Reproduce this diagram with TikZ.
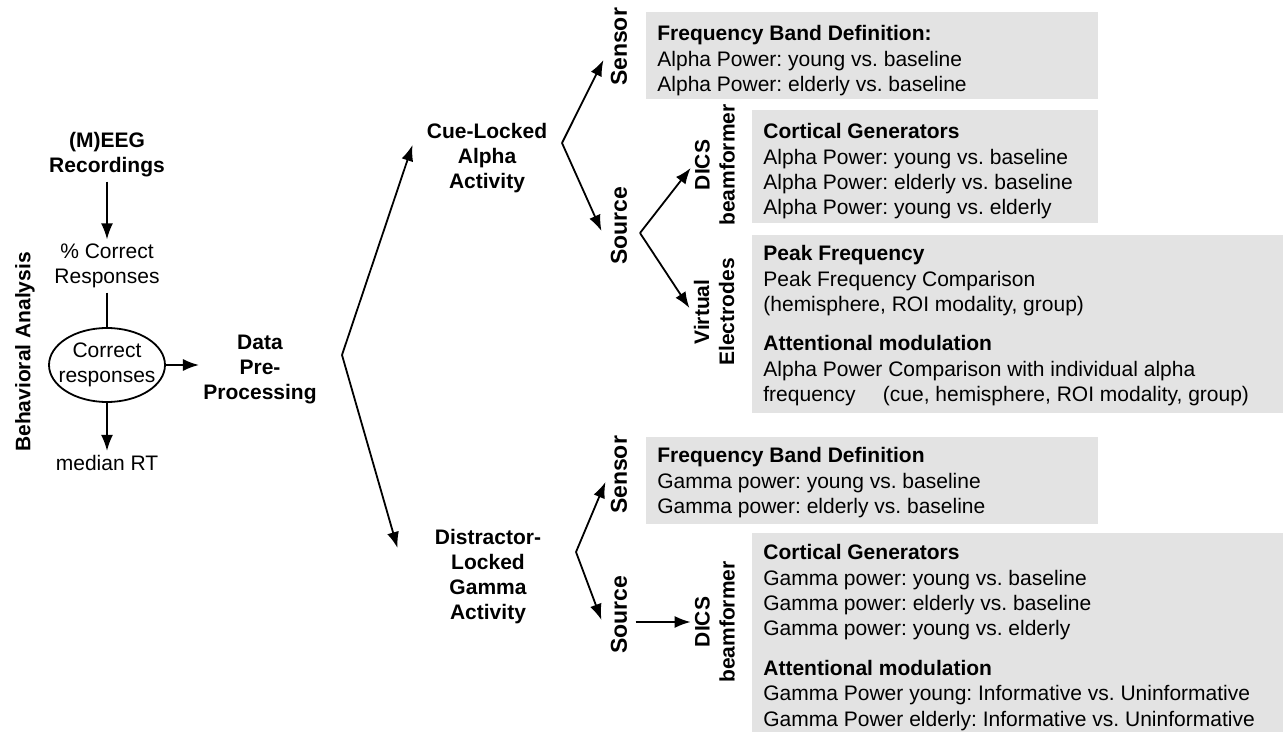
\documentclass[tikz,border=0pt]{standalone}
\usepackage{fontspec}
\setmainfont{Liberation Sans}
\usetikzlibrary{shapes.geometric, arrows.meta}
\frenchspacing

\definecolor{boxgray}{HTML}{E3E3E3}

\begin{document}
\begin{tikzpicture}[x = .5pt, y = -.5pt,
    every node/.style = {font = \fontsize{10.5}{12.7}\selectfont},
    head/.style = {font = \fontsize{10.5}{12.5}\selectfont\bfseries, align = center, inner sep = 2pt},
    side/.style = {font = \fontsize{11.5}{13}\selectfont\bfseries, rotate = 90, inner sep = 2pt},
    sidetwo/.style = {head, rotate = 90},
    plain/.style = {align = center, inner sep = 2pt},
    result/.style = {anchor = north west, align = left, inner sep = 0pt},
    arr/.style = {line width = .9pt, -{Latex[length = 8pt, width = 6pt]}},
    link/.style = {line width = .9pt}]
\useasboundingbox (0, 0) rectangle (1285, 732);

% grey result boxes
\fill[boxgray] (646, 12) rectangle (1098, 99);
\fill[boxgray] (752, 110) rectangle (1098, 223);
\fill[boxgray] (752, 235) rectangle (1283, 413);
\fill[boxgray] (646, 437) rectangle (1098, 524);
\fill[boxgray] (752, 533) rectangle (1283, 732);

% behavioural part
\node[head, rotate = 90] (beh) at (25, 352) {Behavioral Analysis};
\node[head] (meeg) at (107, 155) {(M)EEG\\Recordings};
\node[plain] (pct) at (107, 266) {\% Correct\\Responses};
\node[draw, ellipse, link, minimum width = 58pt, minimum height = 37pt, inner sep = 0pt,
      label = {[plain]center:Correct\\responses}] (ell) at (107, 365) {};
\node[plain] (rt) at (107, 463) {median RT};
\node[head] (pre) at (260, 370) {Data\\Pre-\\Processing};

% analysis branches
\node[head] (cue) at (487, 158) {Cue-Locked\\Alpha\\Activity};
\node[head] (dist) at (488, 577) {Distractor-\\Locked\\Gamma\\Activity};
\node[side] (sensa) at (619, 47) {Sensor};
\node[side] (srca) at (619, 226) {Source};
\node[sidetwo] (dicsa) at (715, 165) {DICS\\beamformer};
\node[sidetwo] (virt) at (714, 312) {Virtual\\Electrodes};
\node[side] (sensg) at (619, 475) {Sensor};
\node[side] (srcg) at (619, 615) {Source};
\node[sidetwo] (dicsg) at (715, 622) {DICS\\beamformer};

% results
\node[result] (fbda) at (657, 25) {\textbf{Frequency Band Definition:}\\
  Alpha Power: young vs. baseline\\Alpha Power: elderly vs. baseline};
\node[result] (cga) at (763, 123) {\textbf{Cortical Generators}\\
  Alpha Power: young vs. baseline\\Alpha Power: elderly vs. baseline\\
  Alpha Power: young vs. elderly};
\node[result] (pfa) at (763, 245) {\textbf{Peak Frequency}\\
  Peak Frequency Comparison\\(hemisphere, ROI modality, group)\\[7pt]
  \textbf{Attentional modulation}\\
  Alpha Power Comparison with individual alpha\\
  frequency\hspace{1.3em}(cue, hemisphere, ROI modality, group)};
\node[result] (fbdg) at (657, 447) {\textbf{Frequency Band Definition}\\
  Gamma power: young vs. baseline\\Gamma power: elderly vs. baseline};
\node[result] (cgg) at (763, 544) {\textbf{Cortical Generators}\\
  Gamma power: young vs. baseline\\Gamma power: elderly vs. baseline\\
  Gamma power: young vs. elderly\\[7pt]
  \textbf{Attentional modulation}\\
  Gamma Power young: Informative vs. Uninformative\\
  Gamma Power elderly: Informative vs. Uninformative};

% forks
\coordinate (fork) at (342, 355);
\coordinate (forka) at (562, 143);
\coordinate (forks) at (640, 233);
\coordinate (forkg) at (576, 552);

\draw[arr] (meeg) -- (pct);
\draw[link] (pct) -- (ell);
\draw[arr] (ell) -- (rt);
\draw[arr] (ell.east) -- (ell.east -| pre.west);
\draw[arr] (fork) -- ([shift = {(-10, -13)}] cue.west);
\draw[arr] (fork) -- ([shift = {(-33, -29)}] dist.west);
\draw[arr] (forka) -- ([shift = {(-3, 13)}] sensa.north);
\draw[arr] (forka) -- ([shift = {(-5, 5)}] srca.north);
\draw[arr] (forks) -- ([shift = {(0, 3)}] dicsa.north);
\draw[arr] (forks) -- ([shift = {(0, -4)}] virt.north);
\draw[arr] (forkg) -- ([shift = {(-1, 7)}] sensg.north);
\draw[arr] (forkg) -- ([shift = {(-5, 5)}] srcg.north);
\draw[arr, shorten <= 2pt] (srcg.south |- dicsg) -- (dicsg.north);
\end{tikzpicture}
\end{document}
